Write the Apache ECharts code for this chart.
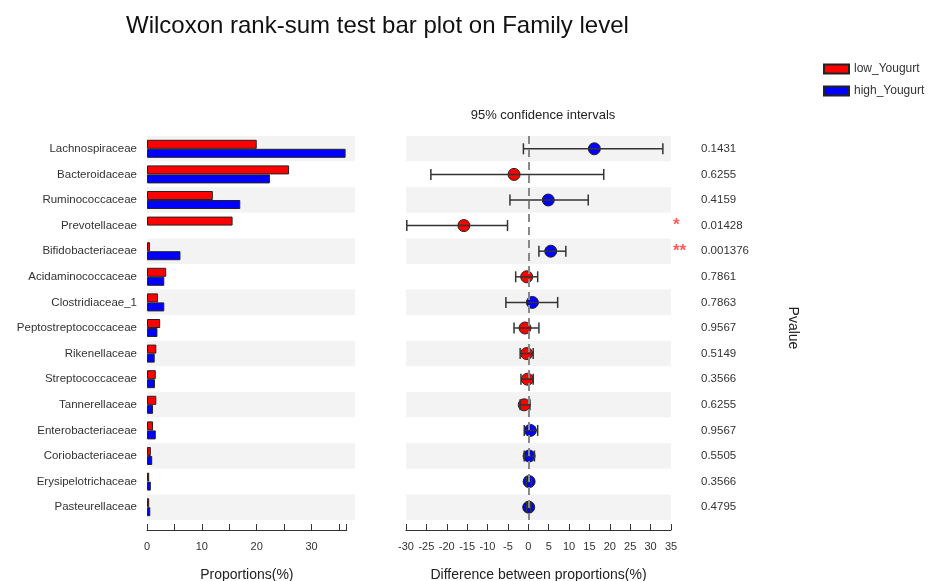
<!DOCTYPE html>
<html>
<head>
<meta charset="utf-8">
<script src="https://cdn.jsdelivr.net/npm/echarts@6/dist/echarts.min.js"></script>
<style>
  html, body { margin: 0; padding: 0; background: #fff; }
  #chart { width: 935px; height: 581px; }
</style>
</head>
<body>
<div id="chart"></div>
<script>
// Family-level abundances (%) for the two groups
const families = ['Lachnospiraceae', 'Bacteroidaceae', 'Ruminococcaceae', 'Prevotellaceae',
  'Bifidobacteriaceae', 'Acidaminococcaceae', 'Clostridiaceae_1', 'Peptostreptococcaceae',
  'Rikenellaceae', 'Streptococcaceae', 'Tannerellaceae', 'Enterobacteriaceae',
  'Coriobacteriaceae', 'Erysipelotrichaceae', 'Pasteurellaceae'];
const lowYogurt = [20.0, 25.9, 12.0, 15.6, 0.55, 3.5, 2.0, 2.4, 1.7, 1.6, 1.7, 1.1, 0.7, 0.4, 0.4];
const highYogurt = [36.2, 22.4, 17.0, null, 6.1, 3.15, 3.15, 1.9, 1.4, 1.45, 1.1, 1.6, 0.95, 0.7, 0.6];

// Difference between proportions with 95% confidence interval
const diffEstimate = [16.2, -3.5, 4.9, -15.8, 5.5, -0.4, 1.0, -0.8, -0.4, -0.2, -1.0, 0.5, 0.2, 0.2, 0.1];
const ciLower = [-1.2, -23.9, -4.5, -29.8, 2.6, -3.1, -5.5, -3.5, -2.0, -1.8, -2.0, -1.0, -1.0, -0.5, -0.4];
const ciUpper = [33.0, 18.5, 14.7, -5.1, 9.2, 2.3, 7.2, 2.6, 1.2, 1.2, 0.4, 2.3, 1.5, 0.8, 0.6];

// Wilcoxon rank-sum p-values and significance marks
const pValues = ['0.1431', '0.6255', '0.4159', '0.01428', '0.001376', '0.7861', '0.7863', '0.9567',
  '0.5149', '0.3566', '0.6255', '0.9567', '0.5505', '0.3566', '0.4795'];
const stars = ['', '', '', '*', '**', '', '', '', '', '', '', '', '', '', ''];

const RED = '#ff0000';
const BLUE = '#0000ff';
const FONT = 'Liberation Sans, Arial, sans-serif';
const TEXT = '#333';

const chart = echarts.init(document.getElementById('chart'), null, { renderer: 'canvas' });

const plotTop = 136;
const plotBottom = 61;

const valueAxisStyle = {
  axisLine: { show: true, lineStyle: { color: TEXT, width: 1 } },
  axisTick: { show: true, inside: true, length: 6, lineStyle: { color: TEXT, width: 1 } },
  splitLine: { show: false }
};

const option = {
  animation: false,
  backgroundColor: '#fff',
  textStyle: { fontFamily: FONT },
  title: [
    {
      text: 'Wilcoxon rank-sum test bar plot on Family level',
      left: 121, top: 9,
      textStyle: { fontSize: 24, fontWeight: 'normal', color: '#111', fontFamily: FONT }
    },
    {
      text: '95% confidence intervals',
      left: 538, top: 104, textAlign: 'center',
      textStyle: { fontSize: 13, fontWeight: 'normal', color: '#222', fontFamily: FONT }
    }
  ],
  legend: {
    orient: 'vertical',
    left: 818, top: 58,
    itemWidth: 25, itemHeight: 9, itemGap: 10,
    icon: 'rect',
    textStyle: { fontSize: 12, color: TEXT, fontFamily: FONT },
    data: ['low_Yougurt', 'high_Yougurt']
  },
  grid: [
    // 0: left bar panel background rows
    { left: 147, width: 208, top: plotTop, bottom: plotBottom, outerBoundsMode: 'none' },
    // 1: left bar panel
    { left: 147, width: 199.7, top: plotTop, bottom: plotBottom, outerBoundsMode: 'none' },
    // 2: confidence interval panel
    { left: 406, width: 265, top: plotTop, bottom: plotBottom, outerBoundsMode: 'none' }
  ],
  xAxis: [
    { gridIndex: 0, type: 'value', min: 0, max: 1, show: false },
    Object.assign({
      gridIndex: 1, type: 'value', min: 0, max: 36.4, interval: 5, offset: 10,
      name: 'Proportions(%)', nameLocation: 'middle', nameGap: 38,
      nameTextStyle: { fontSize: 14, color: '#222', fontFamily: FONT },
      axisLabel: {
        fontSize: 11, color: TEXT, margin: 11,
        formatter: v => (Math.abs(v % 10) < 1e-9 ? String(v) : '')
      }
    }, valueAxisStyle),
    Object.assign({
      gridIndex: 2, type: 'value', min: -30, max: 35, interval: 5, offset: 10,
      name: 'Difference between proportions(%)', nameLocation: 'middle', nameGap: 38,
      nameTextStyle: { fontSize: 14, color: '#222', fontFamily: FONT },
      axisLabel: { fontSize: 11, color: TEXT, margin: 11 }
    }, valueAxisStyle)
  ],
  yAxis: [
    {
      gridIndex: 0, type: 'category', inverse: true, data: families,
      axisLine: { show: false }, axisTick: { show: false }, axisLabel: { show: false },
      splitArea: { show: true, areaStyle: { color: ['#f3f3f3', '#ffffff'] } }
    },
    {
      gridIndex: 1, type: 'category', inverse: true, data: families,
      axisLine: { show: false }, axisTick: { show: false },
      axisLabel: { fontSize: 11.5, color: TEXT, margin: 10 }
    },
    {
      gridIndex: 2, type: 'category', inverse: true, data: families,
      axisLine: { show: false }, axisTick: { show: false }, axisLabel: { show: false },
      splitArea: { show: true, areaStyle: { color: ['#f3f3f3', '#ffffff'] } }
    },
    {
      gridIndex: 2, type: 'category', inverse: true, position: 'right', data: pValues,
      axisLine: { show: false }, axisTick: { show: false },
      axisLabel: { fontSize: 11.5, color: TEXT, margin: 30, padding: [4, 0, 0, 0] },
      name: 'Pvalue', nameLocation: 'middle', nameGap: 115, nameRotate: -90,
      nameTextStyle: { fontSize: 14, color: '#222', fontFamily: FONT }
    },
    {
      gridIndex: 2, type: 'category', inverse: true, position: 'right', data: stars,
      axisLine: { show: false }, axisTick: { show: false },
      axisLabel: { fontSize: 17, color: '#ff5b5b', margin: 2, fontWeight: 'bold' }
    }
  ],
  series: [
    {
      name: 'low_Yougurt', type: 'bar', xAxisIndex: 1, yAxisIndex: 1,
      data: lowYogurt, barWidth: 9, barGap: '0%',
      itemStyle: { color: RED, borderColor: '#222', borderWidth: 1 }
    },
    {
      name: 'high_Yougurt', type: 'bar', xAxisIndex: 1, yAxisIndex: 1,
      data: highYogurt, barWidth: 9, barGap: '0%',
      itemStyle: { color: BLUE, borderColor: '#222', borderWidth: 1 }
    },
    {
      name: 'difference', type: 'scatter', xAxisIndex: 2, yAxisIndex: 2,
      data: diffEstimate.map((d, i) => [d, i]),
      symbolSize: 12, z: 3,
      itemStyle: {
        color: p => (p.value[0] < 0 ? RED : BLUE),
        borderColor: '#222', borderWidth: 1, opacity: 1
      },
      markLine: {
        silent: true, symbol: 'none',
        label: { show: false },
        lineStyle: { color: '#888', width: 2, type: [8, 5] },
        data: [{ xAxis: 0 }]
      }
    },
    {
      name: 'ci', type: 'custom', xAxisIndex: 2, yAxisIndex: 2, z: 4,
      data: ciLower.map((lo, i) => [lo, ciUpper[i], i]),
      encode: { x: [0, 1], y: 2 },
      renderItem: (params, api) => {
        const a = api.coord([api.value(0), api.value(2)]);
        const b = api.coord([api.value(1), api.value(2)]);
        const cap = 5.5;
        const style = { stroke: '#333', lineWidth: 1.5 };
        return {
          type: 'group',
          children: [
            { type: 'line', shape: { x1: a[0], y1: a[1], x2: b[0], y2: b[1] }, style },
            { type: 'line', shape: { x1: a[0], y1: a[1] - cap, x2: a[0], y2: a[1] + cap }, style },
            { type: 'line', shape: { x1: b[0], y1: b[1] - cap, x2: b[0], y2: b[1] + cap }, style }
          ]
        };
      }
    }
  ]
};

chart.setOption(option);
</script>
</body>
</html>
